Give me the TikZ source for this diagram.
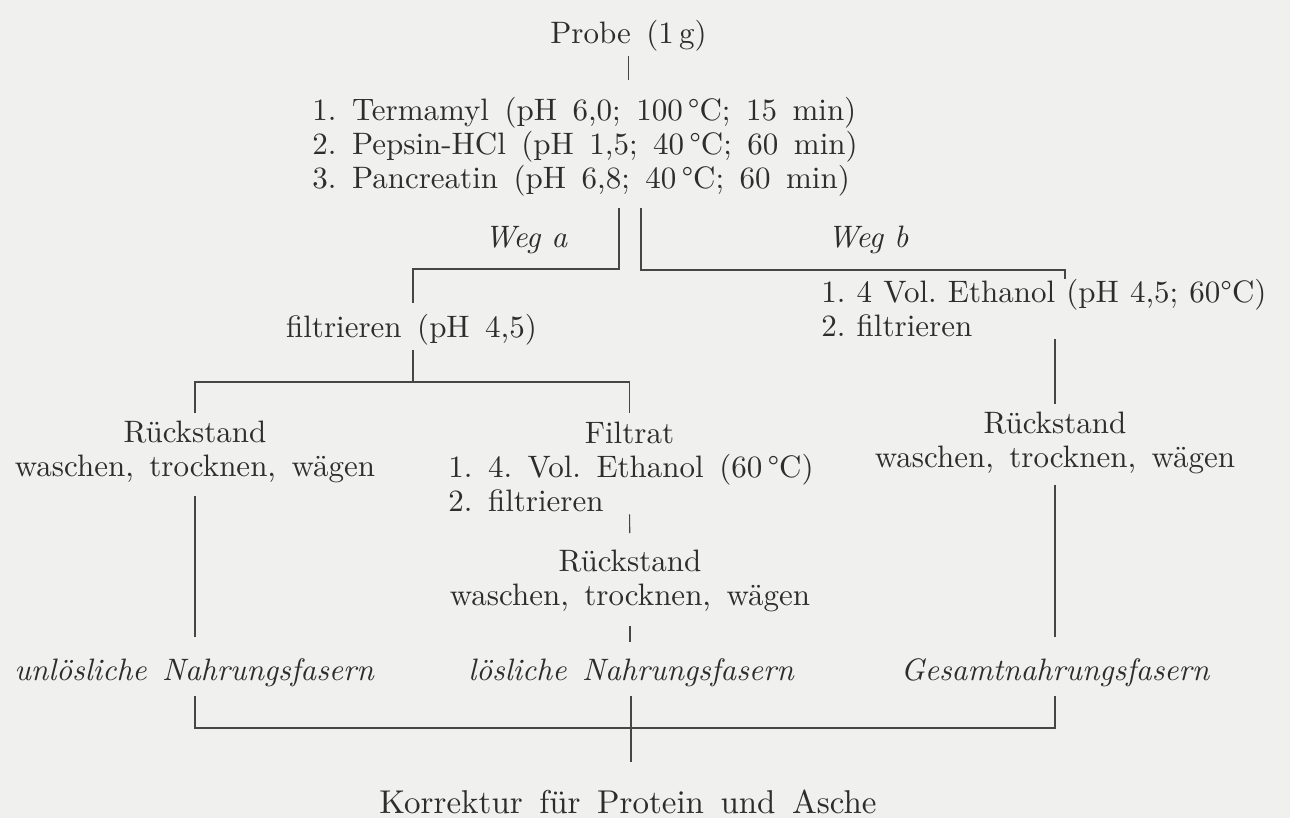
\documentclass[tikz,border=0pt]{standalone}
\usepackage{fontspec}
\setmainfont{lmroman10}[Extension=.otf, UprightFont=*-regular, ItalicFont=*-italic, BoldFont=*-bold]

\definecolor{paper}{RGB}{240,240,238}
\definecolor{ink}{RGB}{45,45,45}
\definecolor{rule}{RGB}{70,70,70}

\newcommand{\lblfont}{\fontsize{15.5}{17}\selectfont\frenchspacing\spaceskip=0.5em\relax}
\newcommand{\lblitfont}{\fontsize{15.5}{17}\selectfont\itshape\frenchspacing\spaceskip=0.5em\relax}
\newcommand{\tightfont}{\fontsize{15.5}{17}\selectfont\frenchspacing\spaceskip=0.36em\relax}
\newcommand{\korrfont}{\fontsize{16.5}{19}\selectfont\frenchspacing\spaceskip=0.5em\relax}

\begin{document}
\begin{tikzpicture}[x=0.5pt, y=-0.5pt,
    txt/.style={inner sep=0pt, text=ink, font=\lblfont},
    txtit/.style={txt, font=\lblitfont},
    conn/.style={draw=rule, line width=0.55pt}]
    \fill[paper] (0,0) rectangle (1290,818);
    \useasboundingbox (0,0) rectangle (1290,818);

    % Aufschluss
    \node[txt, anchor=base] (probe) at (628.5, 44) {Probe (1\,g)};
    \node[txt, anchor=north west, align=left] (steps) at (312, 97)
        {1. Termamyl (pH 6,0; 100\,°C; 15 min)\\2. Pepsin-HCl (pH 1,5; 40\,°C; 60 min)\\3. Pancreatin (pH 6,8; 40\,°C; 60 min)};
    \node[txt, anchor=base, font=\tightfont\itshape] (wega) at (526, 248) {Weg a};
    \node[txt, anchor=base, font=\tightfont\itshape] (wegb) at (868, 248) {Weg b};

    % Weg a
    \node[txt, anchor=base] (filtra) at (411.5, 337) {filtrieren (pH 4,5)};
    \node[txt, anchor=north, align=center] (rueckA) at (195, 421) {Rückstand\\waschen, trocknen, wägen};
    \node[txt, anchor=base] (filtrat) at (629.5, 443) {Filtrat};
    \node[txt, anchor=north west, align=left] (filtsteps) at (448, 454) {1. 4. Vol. Ethanol (60\,°C)\\2. filtrieren};
    \node[txt, anchor=north, align=center] (rueckB) at (630, 550) {Rückstand\\waschen, trocknen, wägen};

    % Weg b
    \node[txt, anchor=north west, align=left, font=\tightfont] (ethb) at (821, 279) {1. 4 Vol. Ethanol (pH 4,5; 60°C)\\2. filtrieren};
    \node[txt, anchor=north, align=center] (rueckC) at (1055, 411.5) {Rückstand\\waschen, trocknen, wägen};

    % Ergebnisse
    \node[txtit, anchor=base] (unl) at (194, 680) {unlösliche Nahrungsfasern};
    \node[txtit, anchor=base] (loes) at (631, 680) {lösliche Nahrungsfasern};
    \node[txtit, anchor=base] (gesamt) at (1055, 680) {Gesamtnahrungsfasern};
    \node[txt, anchor=base, font=\korrfont] (korr) at (628, 813) {Korrektur für Protein und Asche};

    % junctions
    \coordinate (forka) at (619, 208);
    \coordinate (forkb) at (641, 208);
    \coordinate (joina) at (413, 269);
    \coordinate (joinb) at (1065, 270);
    \coordinate (splita) at (413, 382);
    \coordinate (sum) at (631, 728);

    % Connect
    \draw[conn, shorten <=2pt, shorten >=8.5pt] (probe.south) -- (probe.south |- steps.north);
    \draw[conn, shorten >=5.4pt] (forka) |- (joina) -- (joina |- filtra.north);
    \draw[conn] (forkb) |- (joinb) -- (joinb |- ethb.north);
    \draw[conn, shorten <=2.5pt] (splita |- filtra.south) -- (splita);
    \draw[conn, shorten <=4pt, shorten >=4pt] (rueckA.north) |- (filtrat.north |- splita) -- (filtrat.north);
    \draw[conn, shorten <=6.25pt, shorten >=10.25pt] (rueckA.south) -- (rueckA.south |- unl.north);
    \draw[conn, shorten <=1pt, shorten >=8.5pt] (filtrat.south |- filtsteps.south) -- (rueckB.north);
    \draw[conn, shorten <=6.75pt, shorten >=7.75pt] (rueckB.south) -- (rueckB.south |- loes.north);
    \draw[conn, shorten <=1pt, shorten >=4pt] (rueckC.north |- ethb.south) -- (rueckC.north);
    \draw[conn, shorten <=5.25pt, shorten >=10.25pt] (rueckC.south) -- (gesamt.north);
    \draw[conn, shorten <=4.5pt, shorten >=4.5pt] (rueckA.south |- unl.south) |- (sum) -| (rueckC.south |- gesamt.south);
    \draw[conn, shorten <=4.5pt, shorten >=13.3pt] (loes.south) -- (loes.south |- korr.north);
\end{tikzpicture}
\end{document}
